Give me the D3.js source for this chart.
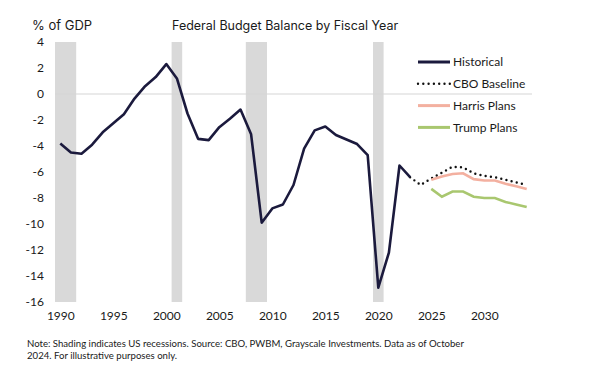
<!DOCTYPE html>
<html>
<head>
<meta charset="utf-8">
<script src="https://cdn.jsdelivr.net/npm/d3@7"></script>
<style>
  body { margin: 0; background: #fff; }
  svg text { font-family: Lato, "Noto Sans", sans-serif; fill: #1a1a1a; }
</style>
</head>
<body>
<svg id="chart" width="600" height="375"></svg>
<script>
// data
var histYears = d3.range(1990, 2024);
var histValues = [-3.8, -4.5, -4.6, -3.9, -2.95, -2.25, -1.55, -0.35, 0.6, 1.3,
    2.3, 1.2, -1.5, -3.45, -3.55, -2.55, -1.9, -1.2, -3.1, -9.9,
    -8.8, -8.5, -7.0, -4.2, -2.8, -2.5, -3.15, -3.5, -3.85, -4.7,
    -14.9, -12.2, -5.5, -6.4];
var cboYears = d3.range(2023, 2035);
var cboValues = [-6.4, -7.0, -6.5, -6.05, -5.6, -5.65, -6.1, -6.3, -6.4, -6.6, -6.8, -7.0];
var planYears = d3.range(2025, 2035);
var harrisValues = [-6.6, -6.35, -6.15, -6.1, -6.55, -6.65, -6.65, -6.9, -7.1, -7.3];
var trumpValues = [-7.3, -7.9, -7.5, -7.5, -7.9, -8.0, -8.0, -8.3, -8.5, -8.7];
var recessions = [[1990, 1991], [2001, 2001], [2008, 2009], [2020, 2020]];
var yTicks = [4, 2, 0, -2, -4, -6, -8, -10, -12, -14, -16];
var xTicks = [1990, 1995, 2000, 2005, 2010, 2015, 2020, 2025, 2030];
var legendNames = ["Historical", "CBO Baseline", "Harris Plans", "Trump Plans"];

var navy = "#1b1a3d", pink = "#f3b0a0", green = "#a9c76f", shade = "#d9d9d9";

var svg = d3.select("#chart");

var x = d3.scaleLinear().domain([1989.5, 2034.5]).range([55, 532]);
var y = d3.scaleLinear().domain([-16, 4]).range([302, 42]);

// 衰退阴影
svg.append("g")
    .selectAll("rect")
    .data(recessions)
    .join("rect")
    .attr("x", d => x(d[0] - 0.5))
    .attr("width", d => x(d[1] + 0.5) - x(d[0] - 0.5))
    .attr("y", y(4))
    .attr("height", y(-16) - y(4))
    .attr("fill", shade);

// zero line
svg.append("line")
    .attr("x1", x(1989.5)).attr("x2", x(2034.5))
    .attr("y1", y(0)).attr("y2", y(0))
    .attr("stroke", "#d6d6d6").attr("stroke-width", 1.2);

// axes
var yAxis = svg.append("g")
    .attr("transform", "translate(44,0)")
    .call(d3.axisLeft(y).tickValues(yTicks).tickSize(0).tickPadding(0).tickFormat(d => d < 0 ? "-" + Math.abs(d) : d));
var xAxis = svg.append("g")
    .attr("transform", "translate(0," + 311 + ")")
    .call(d3.axisBottom(x).tickValues(xTicks).tickSize(0).tickPadding(0).tickFormat(d3.format("d")));
[yAxis, xAxis].forEach(function (g) {
    g.select(".domain").remove();
    g.selectAll("text").attr("font-size", 12).attr("fill", "#1a1a1a");
});

var line = d3.line().x(d => x(d[0])).y(d => y(d[1]));

svg.append("path")
    .datum(d3.zip(cboYears, cboValues))
    .attr("d", line)
    .attr("fill", "none").attr("stroke", "#111")
    .attr("stroke-width", 2.4).attr("stroke-linecap", "round")
    .attr("stroke-dasharray", "0,5.3");

svg.append("path")
    .datum(d3.zip(planYears, harrisValues))
    .attr("d", line)
    .attr("fill", "none").attr("stroke", pink).attr("stroke-width", 2.6);

svg.append("path")
    .datum(d3.zip(planYears, trumpValues))
    .attr("d", line)
    .attr("fill", "none").attr("stroke", green).attr("stroke-width", 2.6);

svg.append("path")
    .datum(d3.zip(histYears, histValues))
    .attr("d", line)
    .attr("fill", "none").attr("stroke", navy).attr("stroke-width", 2.6)
    .attr("stroke-linejoin", "round");

// legend
var legend = svg.append("g").attr("transform", "translate(418,62)");
var legendRows = legend.selectAll("g")
    .data(legendNames)
    .join("g")
    .attr("transform", (d, i) => "translate(0," + i * 21.8 + ")");
legendRows.append("line")
    .attr("x1", 0).attr("x2", 32)
    .attr("stroke", (d, i) => [navy, "#111", pink, green][i])
    .attr("stroke-width", (d, i) => i == 1 ? 2.4 : 3)
    .attr("stroke-linecap", (d, i) => i == 1 ? "round" : "butt")
    .attr("stroke-dasharray", (d, i) => i == 1 ? "0,5.3" : null);
legendRows.append("text")
    .attr("x", 35).attr("dy", "0.35em")
    .attr("font-size", 12)
    .text(d => d);

// titles
svg.append("text").attr("x", 32).attr("y", 30).attr("font-size", 13).style("font-family", "Inter, sans-serif").text("% of GDP");
svg.append("text").attr("x", 172).attr("y", 30).attr("font-size", 12.5).style("font-family", "Inter, sans-serif").text("Federal Budget Balance by Fiscal Year");

// note
svg.append("text").attr("x", 27).attr("y", 347).attr("font-size", 9.6)
    .text("Note: Shading indicates US recessions. Source: CBO, PWBM, Grayscale Investments. Data as of October");
svg.append("text").attr("x", 27).attr("y", 359).attr("font-size", 9.6)
    .text("2024. For illustrative purposes only.");
</script>
</body>
</html>
